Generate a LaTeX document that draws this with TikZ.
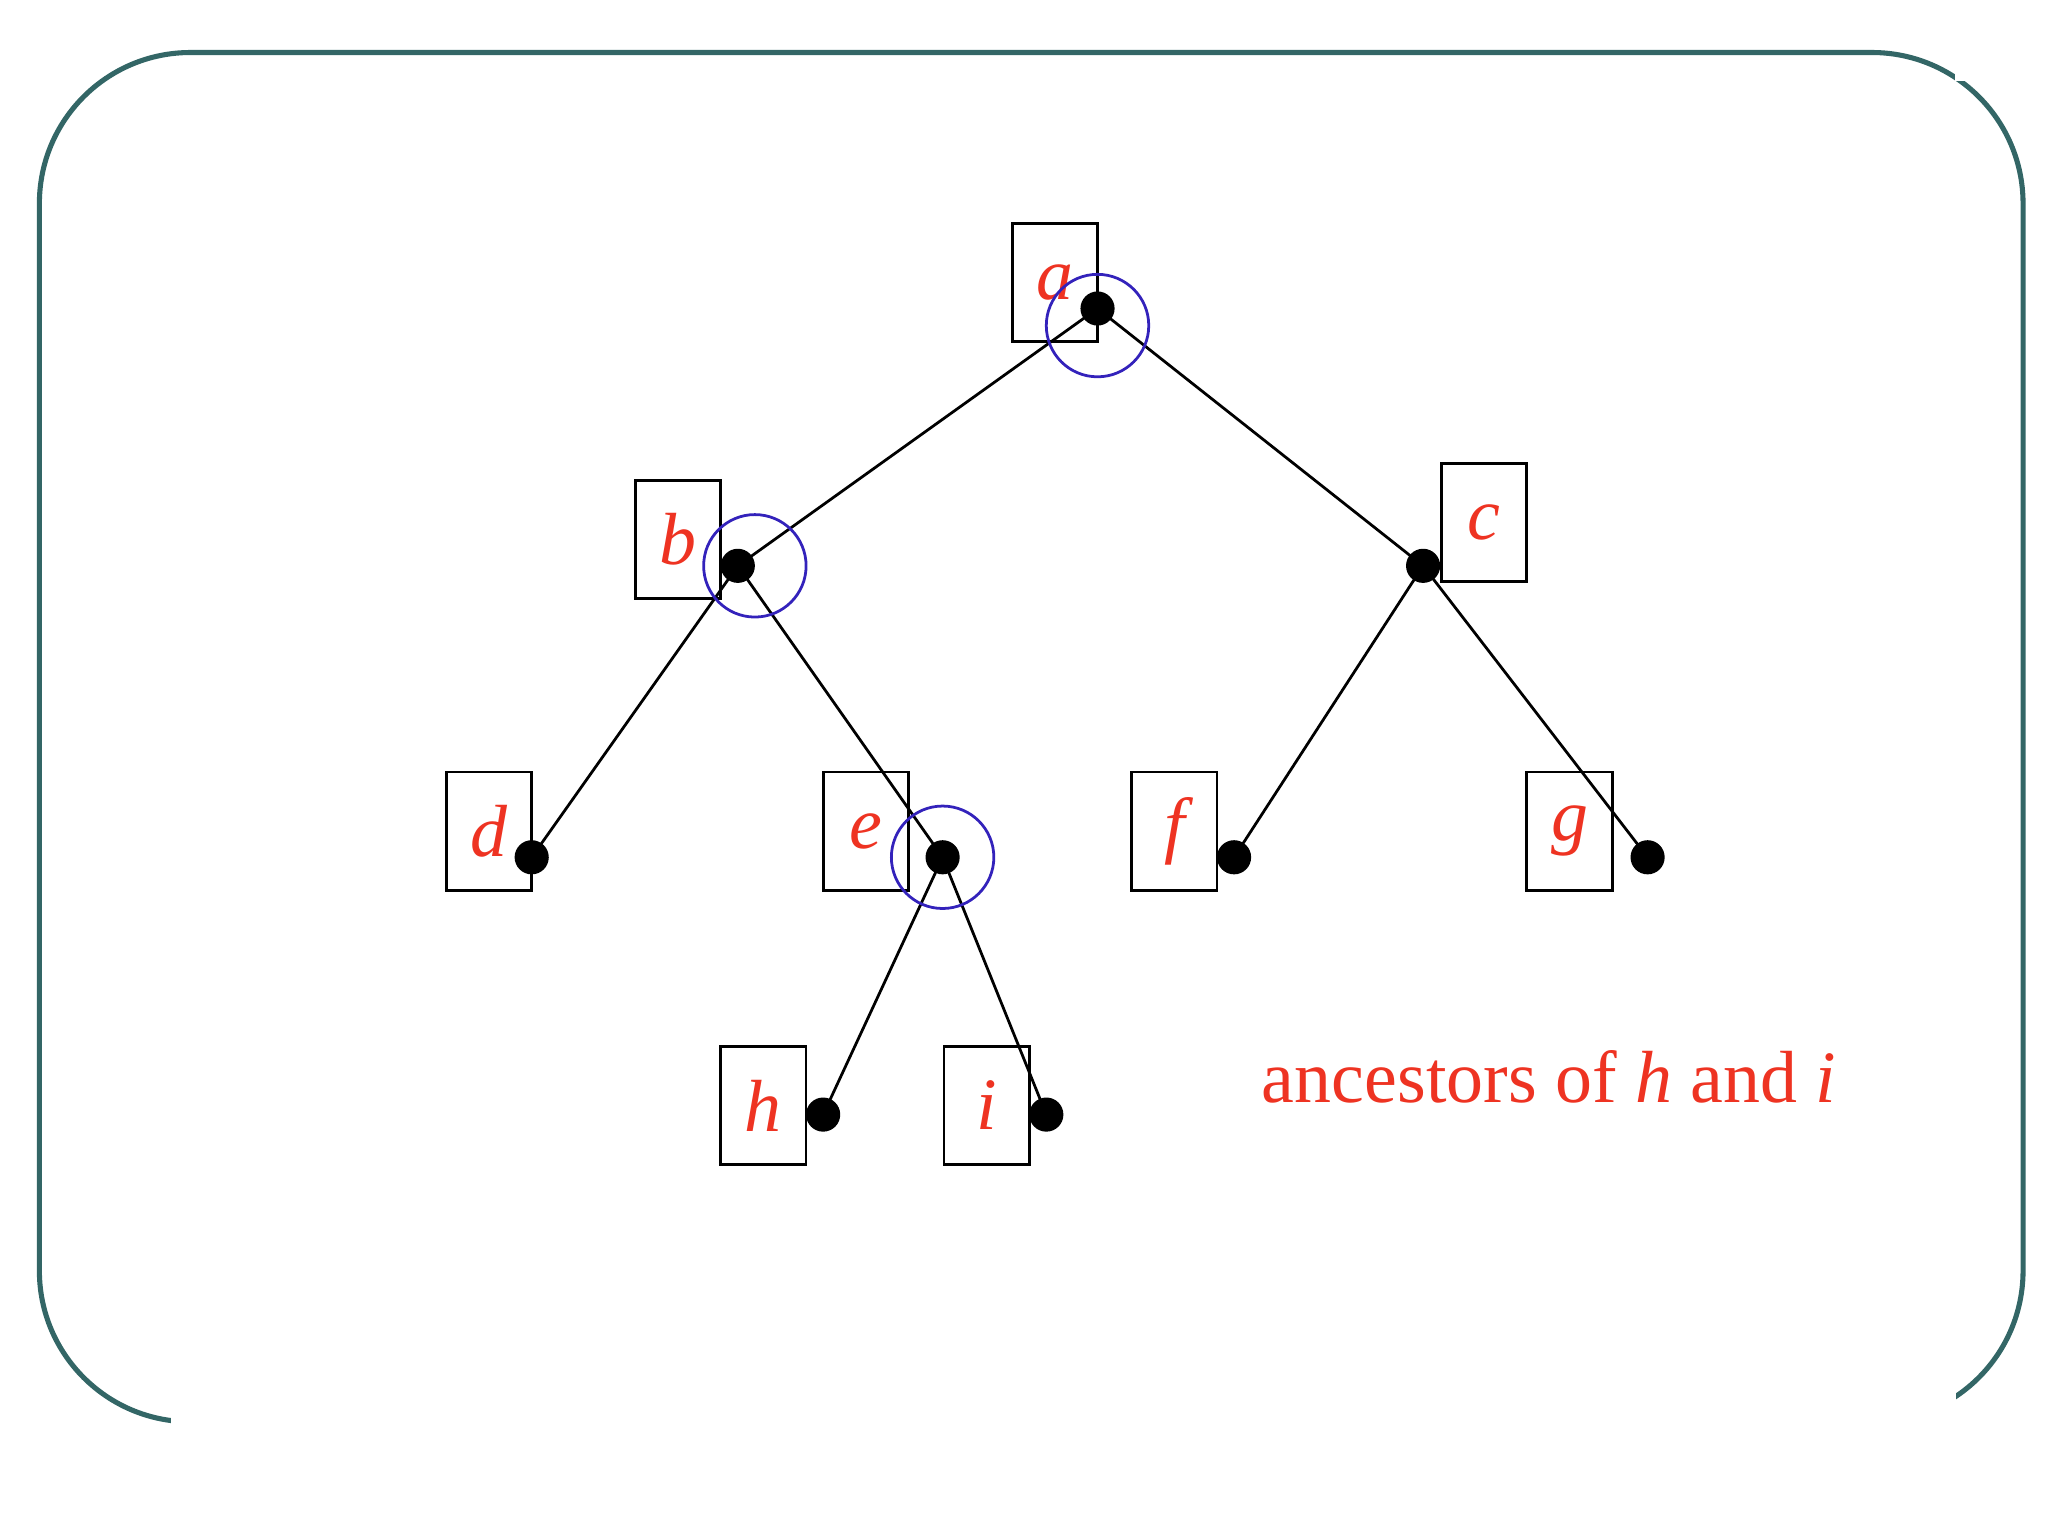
\documentclass[tikz,border=0pt]{standalone}
\usepackage{fontspec}
\setmainfont{Liberation Serif}
\definecolor{frame}{HTML}{336666}
\definecolor{lbl}{HTML}{EE3322}
\definecolor{ring}{HTML}{3322BB}
\begin{document}
\begin{tikzpicture}[x=0.01cm,y=-0.01cm,
  box/.style={draw,line width=0.6pt,minimum width=0.65cm,minimum height=0.9cm,inner sep=0pt,
     text=lbl,font=\fontsize{16}{16}\selectfont\itshape},
  dot/.style={circle,fill=black,minimum size=0.26cm,inner sep=0pt},
  ringc/.style={circle,draw=ring,line width=0.6pt,minimum size=0.78cm,inner sep=0pt},
  edge/.style={line width=0.6pt}]
\useasboundingbox (0,0) rectangle (1560,1170);
\draw[frame,line width=1.1pt,rounded corners=1.15cm] (30,40) rectangle (1541,1083);
\fill[white] (130,1060) rectangle (1490,1095);
\fill[white] (1489,30) rectangle (1500,62);
% boxes
\node[box] (A) at (803.5,215) {a};
\node[box] (B) at (516.5,411) {b};
\node[box] (C) at (1130.5,398) {c};
\node[box] (D) at (372.5,633) {d};
\node[box] (E) at (659.5,633) {e};
\node[box] (F) at (894.5,633) {f};
\node[box] (G) at (1195.5,633) {g};
\node[box] (H) at (581.5,842) {h};
\node[box] (I) at (751.5,842) {i};
% dots
\node[dot] (a) at (836,235) {};
\node[dot] (b) at (562,431) {};
\node[dot] (c) at (1084,431) {};
\node[dot] (d) at (405,653) {};
\node[dot] (e) at (718,653) {};
\node[dot] (f) at (940,653) {};
\node[dot] (g) at (1255,653) {};
\node[dot] (h) at (627,849) {};
\node[dot] (i) at (797,849) {};
\foreach \p/\q in {a/b,a/c,b/d,b/e,c/f,c/g,e/h,e/i}
  \draw[edge] (\p.center) -- (\q.center);
\node[ringc] (ra) at (836,248) {};
\node[ringc] (rb) at (575,431) {};
\node[ringc] (re) at (718,653) {};
\node[text=lbl,font=\fontsize{16}{16}\selectfont] (t) at (1180,820) {ancestors of \textit{h} and \textit{i}};
\end{tikzpicture}
\end{document}
